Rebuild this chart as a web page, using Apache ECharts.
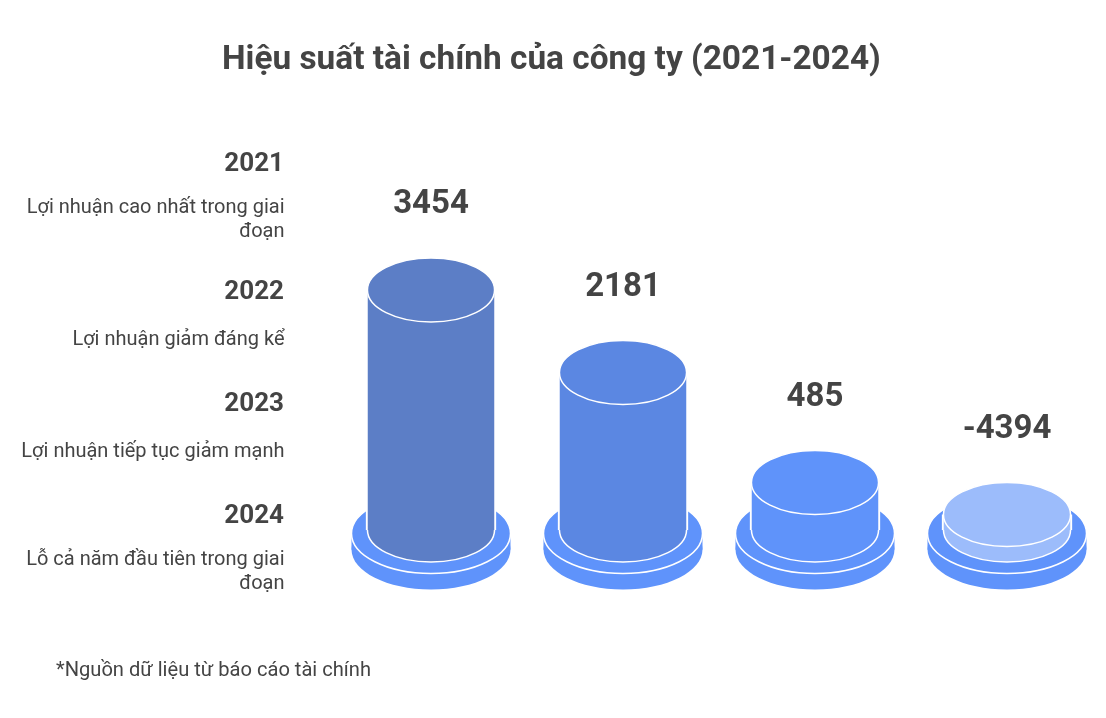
<!DOCTYPE html>
<html>
<head>
<meta charset="utf-8">
<style>html,body{margin:0;padding:0;background:#fff}#c{width:1106px;height:718px}</style>
<script src="https://cdn.jsdelivr.net/npm/echarts@6/dist/echarts.min.js"></script>
</head>
<body>
<div id="c"></div>
<script>
const titleText = 'Hiệu suất tài chính của công ty (2021-2024)';
const footnote = '*Nguồn dữ liệu từ báo cáo tài chính';
const years = ['2021', '2022', '2023', '2024'];
const notes = ['Lợi nhuận cao nhất trong giai\nđoạn', 'Lợi nhuận giảm đáng kể', 'Lợi nhuận tiếp tục giảm mạnh', 'Lỗ cả năm đầu tiên trong giai\nđoạn'];
const profits = [3454, 2181, 485, -4394];
// The picture's columns are illustrative, not to scale: these are the drawn column levels.
const drawnLevels = [3454, 2267, 684, 223];
const columnColors = ['#5c7ec6', '#5b87e2', '#5f93fa', '#9cbcfb'];

const BASE_COLOR = '#5f93fb', TEXT = '#444444', FONT = 'Roboto, sans-serif';
const chart = echarts.init(document.getElementById('c'), null, {renderer: 'canvas'});

function ellipse(cx, cy, rx, ry, fill, stroke) {
  return {type: 'ellipse', shape: {cx, cy, rx, ry}, style: {fill, stroke: stroke || null, lineWidth: 1.5}};
}
function renderItem(params, api) {
  const i = api.value(0);
  const top = api.coord([i, api.value(1)]);
  const bottom = api.coord([i, 0]);
  const band = api.size([1, 0])[0];
  const cx = top[0], y0 = bottom[1], yt = top[1];
  const r = band * 0.331, ry = r * 0.504;
  const R = band * 0.414, RY = R * 0.503;
  const by = y0 + 3.5, depth = 16;
  const col = columnColors[i];
  return {
    type: 'group',
    children: [
      ellipse(cx, by + depth, R, RY, BASE_COLOR),
      {type: 'rect', shape: {x: cx - R, y: by, width: 2 * R, height: depth}, style: {fill: BASE_COLOR}},
      ellipse(cx, by, R, RY, BASE_COLOR, '#ffffff'),
      {type: 'line', shape: {x1: cx - r - 0.4, y1: yt, x2: cx - r - 0.4, y2: y0}, style: {stroke: '#ffffff', lineWidth: 2.4}},
      {type: 'line', shape: {x1: cx + r + 0.4, y1: yt, x2: cx + r + 0.4, y2: y0}, style: {stroke: '#ffffff', lineWidth: 2.4}},
      ellipse(cx, y0, r, ry, col, '#ffffff'),
      {type: 'rect', shape: {x: cx - r + 0.3, y: yt, width: 2 * r - 0.6, height: y0 - yt}, style: {fill: col}},
      ellipse(cx, yt, r, ry, col, '#ffffff'),
      {type: 'text', style: {text: String(api.value(2)), x: cx, y: yt - 85, align: 'center', verticalAlign: 'middle',
        fill: TEXT, font: 'bold 33px ' + FONT}}
    ]
  };
}

const yearY = [164, 292, 404, 516];
const noteY = [219.5, 339.5, 451.5, 571.5];
const sideText = [];
years.forEach(function (y, i) {
  sideText.push({type: 'text', style: {text: y, x: 284, y: yearY[i], align: 'right', verticalAlign: 'middle', fill: TEXT, font: 'bold 26px ' + FONT}});
  sideText.push({type: 'text', style: {text: notes[i], x: 284.5, y: noteY[i], align: 'right', verticalAlign: 'middle', fill: TEXT, font: '20px ' + FONT, lineHeight: 24}});
});
sideText.push({type: 'text', style: {text: footnote, x: 56, y: 671, align: 'left', verticalAlign: 'middle', fill: TEXT, font: '20.13px ' + FONT}});

chart.setOption({
  backgroundColor: '#ffffff',
  animation: false,
  title: {text: titleText, left: 217, top: 39, textStyle: {fontFamily: 'Roboto', fontWeight: 'bold', fontSize: 33.4, color: TEXT}},
  grid: {left: 335, width: 768, top: 290, height: 240},
  xAxis: {type: 'category', data: years, show: false},
  yAxis: {type: 'value', min: 0, max: drawnLevels[0], show: false},
  graphic: sideText,
  series: [{
    type: 'custom',
    renderItem: renderItem,
    clip: false,
    data: drawnLevels.map(function (v, i) { return [i, v, profits[i]]; }),
    encode: {x: 0, y: 1}
  }]
});
</script>
</body>
</html>
